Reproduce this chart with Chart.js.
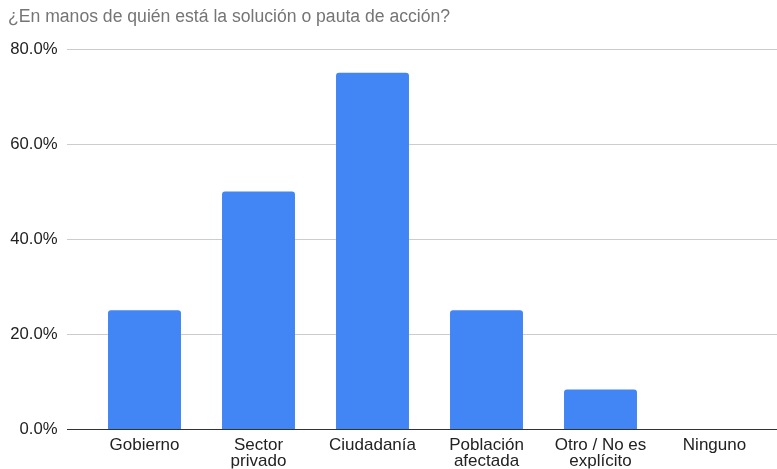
<!DOCTYPE html>
<html>
<head>
<meta charset="utf-8">
<script src="https://cdn.jsdelivr.net/npm/chart.js@4.4.1/dist/chart.umd.min.js"></script>
<style>
  html, body { margin: 0; padding: 0; background: #fff; }
  #wrap { width: 777px; height: 469px; position: relative; }
</style>
</head>
<body>
<div id="wrap"><canvas id="solucionChart"></canvas></div>
<script>
// Data
const categories = ['Gobierno', ['Sector', 'privado'], 'Ciudadanía', ['Población', 'afectada'], ['Otro / No es', 'explícito'], 'Ninguno'];
const shareValues = [25, 50, 75, 25, 8.3, 0];
const yTicks = [0, 20, 40, 60, 80];
const chartTitle = '¿En manos de quién está la solución o pauta de acción?';

const FONT = "'Liberation Sans', Arial, sans-serif";

// Horizontal grid lines wider than the bar area, plus the dark baseline
const wideGrid = {
    id: 'wideGrid',
    beforeDatasetsDraw(chart) {
        const ctx = chart.ctx;
        const y = chart.scales.y;
        const left = 67, right = chart.width;
        ctx.save();
        yTicks.forEach(function(t) {
            const py = Math.round(y.getPixelForValue(t)) + 0.5;
            ctx.strokeStyle = t === 0 ? '#333333' : '#cccccc';
            ctx.lineWidth = 1;
            ctx.beginPath();
            ctx.moveTo(left, py);
            ctx.lineTo(right, py);
            ctx.stroke();
        });
        ctx.restore();
    }
};

const ctx = document.getElementById('solucionChart').getContext('2d');
const solucionChart = new Chart(ctx, {
    type: 'bar',
    data: {
        labels: categories,
        datasets: [{
            data: shareValues,
            backgroundColor: '#4285f4',
            borderRadius: { topLeft: 3, topRight: 3 },
            borderSkipped: 'bottom',
            categoryPercentage: 1,
            barPercentage: 0.64
        }]
    },
    options: {
        responsive: true,
        maintainAspectRatio: false,
        animation: false,
        layout: { padding: { left: 8, right: 5.5, top: 0, bottom: 0 } },
        plugins: {
            legend: { display: false },
            tooltip: { enabled: false },
            title: {
                display: true,
                text: chartTitle,
                align: 'start',
                color: '#757575',
                font: { family: FONT, size: 17.6, weight: 'normal' },
                padding: { top: 7, bottom: 21 }
            }
        },
        scales: {
            x: {
                grid: { display: false, drawTicks: false },
                border: { display: false },
                ticks: {
                    color: '#222222',
                    font: { family: FONT, size: 17, lineHeight: 0.97 },
                    padding: 8,
                    maxRotation: 0,
                    autoSkip: false
                },
                afterFit(scale) { scale.height = 39.5; }
            },
            y: {
                min: 0,
                max: 80,
                afterBuildTicks(scale) {
                    scale.ticks = yTicks.map(function(v) { return { value: v }; });
                },
                grid: { display: false, drawTicks: false },
                border: { display: false },
                ticks: {
                    color: '#222222',
                    font: { family: FONT, size: 16.7 },
                    padding: 30,
                    callback: function(value) { return value.toFixed(1) + '%'; }
                },
                afterFit(scale) { scale.width = 79.5; }
            }
        }
    },
    plugins: [wideGrid]
});
</script>
</body>
</html>
